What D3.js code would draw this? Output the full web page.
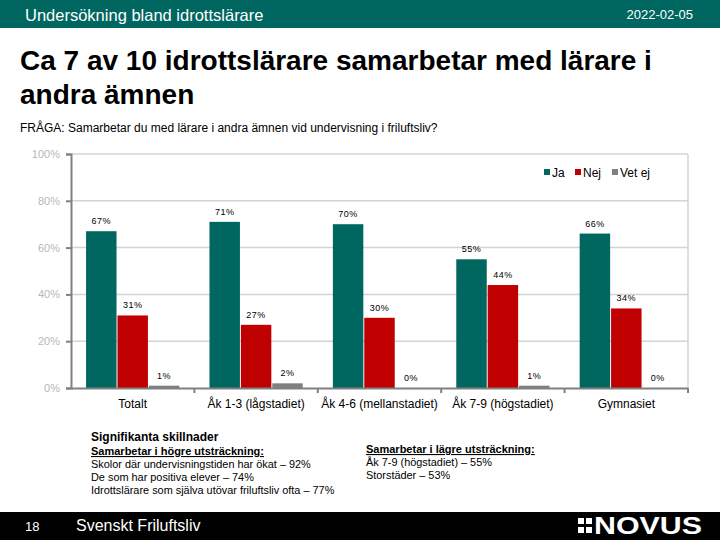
<!DOCTYPE html>
<html><head><meta charset="utf-8">
<script src="https://cdn.jsdelivr.net/npm/d3@7"></script>
<style>body{margin:0;background:#fff}svg{display:block}text{font-family:"Liberation Sans",Arial,sans-serif}</style>
</head><body>
<svg id="c" width="720" height="540"></svg>
<script>
const categories = ["Totalt","Åk 1-3 (lågstadiet)","Åk 4-6 (mellanstadiet)","Åk 7-9 (högstadiet)","Gymnasiet"];
const seriesNames = ["Ja","Nej","Vet ej"];
const ja = [67,71,70,55,66];
const nej = [31,27,30,44,34];
const vetej = [1,2,0,1,0];
const yTicks = [0,20,40,60,80,100];
const colors = ["#006660","#C00000","#808080"];

const svg = d3.select("#c");
// header
svg.append("rect").attr("x",0).attr("y",0).attr("width",720).attr("height",28).attr("fill","#006660");
svg.append("text").attr("x",25).attr("y",21).attr("fill","#fff").attr("font-size",16.5).text("Undersökning bland idrottslärare");
svg.append("text").attr("x",693).attr("y",19).attr("fill","#fff").attr("font-size",13).attr("text-anchor","end").text("2022-02-05");
// title
svg.append("text").attr("x",20).attr("y",70).attr("font-size",28).attr("font-weight","bold").text("Ca 7 av 10 idrottslärare samarbetar med lärare i");
svg.append("text").attr("x",20).attr("y",104).attr("font-size",28).attr("font-weight","bold").text("andra ämnen");
svg.append("text").attr("x",20).attr("y",132).attr("font-size",12).text("FRÅGA: Samarbetar du med lärare i andra ämnen vid undervisning i friluftsliv?");

const x0 = 71, x1 = 688, yTop = 154, yBot = 388;
const x = d3.scaleBand().domain(categories).range([x0,x1]).paddingInner(0).paddingOuter(0);
const y = d3.scaleLinear().domain([0,100]).range([yBot,yTop]);
const xs = d3.scaleBand().domain(seriesNames).range([0,x.bandwidth()]).paddingOuter(0.48).paddingInner(0.03);

// grid
svg.append("g").selectAll("line").data(yTicks.filter(d=>d>0)).join("line")
  .attr("x1",x0).attr("x2",x1).attr("y1",d=>y(d)).attr("y2",d=>y(d))
  .attr("stroke","#d4d4d4").attr("stroke-width",1.5);
svg.append("line").attr("x1",x1).attr("x2",x1).attr("y1",yTop).attr("y2",yBot).attr("stroke","#d4d4d4").attr("stroke-width",1.5);

// bars
const data = categories.map((c,i)=>({c, vals:[ja[i],nej[i],vetej[i]]}));
const g = svg.append("g");
data.forEach(d=>{
  d.vals.forEach((v,j)=>{
    const bx = x(d.c)+xs(seriesNames[j]);
    g.append("rect").attr("x",bx).attr("y",y(v)).attr("width",xs.bandwidth()).attr("height",yBot-y(v)).attr("fill",colors[j]);
    g.append("text").attr("x",bx+xs.bandwidth()/2).attr("y",y(v)-7).attr("text-anchor","middle")
      .attr("font-size",9).attr("letter-spacing",0.5).text(v+"%");
  });
});

// y axis
const yAxis = d3.axisLeft(y).tickValues(yTicks).tickFormat(d=>d+"%").tickSize(5).tickPadding(6);
const ya = svg.append("g").attr("transform",`translate(${x0},0)`).call(yAxis);
ya.select(".domain").attr("stroke","#808080").attr("stroke-width",2);
ya.selectAll(".tick line").attr("stroke","#808080").attr("stroke-width",2);
ya.selectAll(".tick text").attr("fill","#b8b8b8").attr("font-size",11).attr("font-family","Liberation Sans, Arial, sans-serif");

// x axis
const xAxis = d3.axisBottom(x).tickSize(0).tickPadding(11);
const xa = svg.append("g").attr("transform",`translate(0,${yBot})`).call(xAxis);
xa.select(".domain").attr("stroke","#808080").attr("stroke-width",2);
xa.selectAll(".tick text").attr("fill","#000").attr("font-size",12).attr("font-family","Liberation Sans, Arial, sans-serif");
svg.append("g").selectAll("line").data(categories).join("line")
  .attr("x1",d=>x(d)+x.bandwidth()).attr("x2",d=>x(d)+x.bandwidth())
  .attr("y1",yBot).attr("y2",yBot+5).attr("stroke","#808080").attr("stroke-width",2);

// legend
const lx = [544,575,612];
seriesNames.forEach((s,i)=>{
  svg.append("rect").attr("x",lx[i]).attr("y",169).attr("width",6).attr("height",6).attr("fill",colors[i]);
  svg.append("text").attr("x",lx[i]+8).attr("y",177).attr("font-size",12).text(s);
});

// notes
svg.append("text").attr("x",91).attr("y",441).attr("font-size",12).attr("font-weight","bold").text("Signifikanta skillnader");
svg.append("text").attr("x",91).attr("y",455).attr("font-size",11).attr("font-weight","bold").attr("text-decoration","underline").text("Samarbetar i högre utsträckning:");
["Skolor där undervisningstiden har ökat – 92%","De som har positiva elever – 74%","Idrottslärare som själva utövar friluftsliv ofta – 77%"].forEach((t,i)=>{
  svg.append("text").attr("x",91).attr("y",468+i*13).attr("font-size",10.9).text(t);
});
svg.append("text").attr("x",366).attr("y",453).attr("font-size",11).attr("font-weight","bold").attr("text-decoration","underline").text("Samarbetar i lägre utsträckning:");
["Åk 7-9 (högstadiet) – 55%","Storstäder – 53%"].forEach((t,i)=>{
  svg.append("text").attr("x",366).attr("y",466+i*13).attr("font-size",10.9).text(t);
});

// footer
svg.append("rect").attr("x",0).attr("y",512).attr("width",720).attr("height",28).attr("fill","#000");
svg.append("text").attr("x",25).attr("y",531).attr("fill","#fff").attr("font-size",13).text("18");
svg.append("text").attr("x",76).attr("y",531).attr("fill","#fff").attr("font-size",16).text("Svenskt Friluftsliv");
[[578,518],[586,518],[578,527],[586,527]].forEach(p=>{
  svg.append("rect").attr("x",p[0]).attr("y",p[1]).attr("width",6).attr("height",6).attr("fill","#fff");
});
svg.append("text").attr("x",594).attr("y",534).attr("fill","#fff").attr("font-size",23).attr("font-weight","bold")
  .attr("font-family","Liberation Serif, serif").attr("textLength",108).attr("lengthAdjust","spacingAndGlyphs").text("NOVUS");
</script>
</body></html>
